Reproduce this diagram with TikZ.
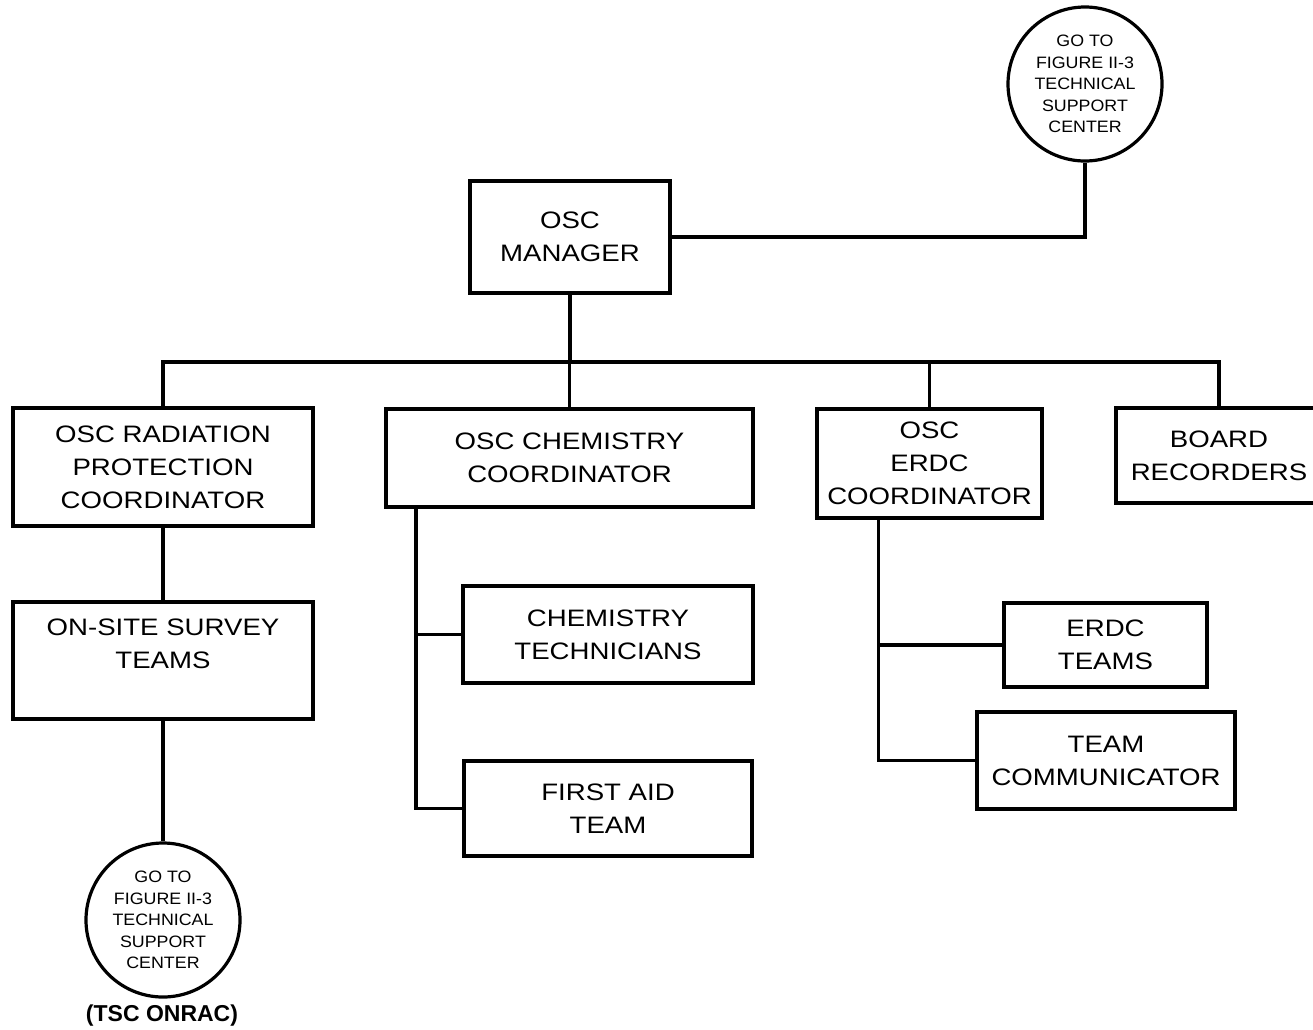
\documentclass[tikz,border=0pt]{standalone}
\usepackage{fontspec}
\setmainfont{Liberation Sans}
\newfontfamily\boxfont[FakeStretch=1.16]{Liberation Sans}
\newfontfamily\circfont[FakeStretch=1.08]{Liberation Sans}
\begin{document}
\begin{tikzpicture}[x=1pt,y=1pt,
  line width=3.2pt,
  orgbox/.style={draw, rectangle, inner sep=0pt, align=center,
     font=\boxfont\fontsize{23.8}{33}\selectfont},
  gocirc/.style={draw, circle, minimum size=154pt, inner sep=0pt, align=center,
     font=\circfont\fontsize{16.5}{21.6}\selectfont},
  wire/.style={line width=3.2pt}]
\clip (0,0) rectangle (1313,-1029);
\fill[white] (0,0) rectangle (1313,-1029);

% nodes
\node[gocirc] (topc) at (1085,-84) {GO TO\\FIGURE II-3\\TECHNICAL\\SUPPORT\\CENTER};
\node[orgbox, minimum width=200pt, minimum height=112pt] (mgr) at (570,-237) {OSC\\MANAGER};

\node[orgbox, minimum width=300pt, minimum height=118pt] (rad) at (163,-467) {OSC RADIATION\\PROTECTION\\COORDINATOR};
\node[orgbox, minimum width=367pt, minimum height=98pt] (chem) at (569.5,-458) {OSC CHEMISTRY\\COORDINATOR};
\node[orgbox, minimum width=225pt, minimum height=109pt] (erdc) at (929.5,-463.5) {OSC\\ERDC\\COORDINATOR};
\node[orgbox, minimum width=206pt, minimum height=95pt] (board) at (1219,-455.5) {BOARD\\RECORDERS};

\node[orgbox, minimum width=300pt, minimum height=117pt] (survey) at (163,-660.5) {ON-SITE SURVEY\\TEAMS\\\mbox{}};
\node[gocirc] (botc) at (163,-920) {GO TO\\FIGURE II-3\\TECHNICAL\\SUPPORT\\CENTER};
\node[font=\bfseries\fontsize{23}{26}\selectfont, inner sep=0pt] (onrac) at (162,-1016) {(TSC ONRAC)};

\node[orgbox, minimum width=290pt, minimum height=97pt] (ctech) at (608,-634.5) {CHEMISTRY\\TECHNICIANS};
\node[orgbox, minimum width=288pt, minimum height=95pt] (aid) at (608,-808.5) {FIRST AID\\TEAM};

\node[orgbox, minimum width=203pt, minimum height=84pt] (eteams) at (1105.5,-645) {ERDC\\TEAMS};
\node[orgbox, minimum width=258pt, minimum height=97pt] (tcomm) at (1106,-760.5) {TEAM\\COMMUNICATOR};

% helper coordinates
\coordinate (bus) at (0,-362);
\coordinate (cv) at (416,-507);
\coordinate (ev) at (878.5,-518);

% connectors
\draw[wire] (mgr.east) -| (topc.south);
\draw[wire] (mgr.south) -- (mgr.south |- bus);
\draw[wire] (rad.north) -- (rad.north |- bus) -| (board.north);
\draw[wire] (chem.north) -- (chem.north |- bus);
\draw[wire] (erdc.north) -- (erdc.north |- bus);
\draw[wire] (rad.south) -- (survey.north);
\draw[wire] (survey.south) -- (botc.north);
\draw[wire] (cv) |- (aid.west);
\draw[wire] (cv |- ctech.west) -- (ctech.west);
\draw[wire] (ev) |- (tcomm.west);
\draw[wire] (ev |- eteams.west) -- (eteams.west);
\end{tikzpicture}
\end{document}
